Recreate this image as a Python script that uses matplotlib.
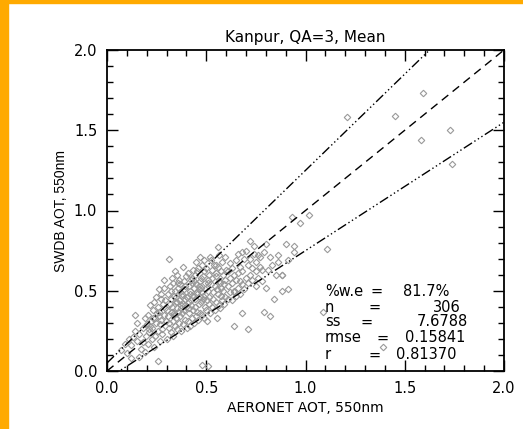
import numpy as np
import matplotlib
matplotlib.use("Agg")
import matplotlib.pyplot as plt
from matplotlib.patches import Rectangle

# AERONET (x) vs SWDB (y) AOT
aer_a = [0.07, 0.09, 0.10, 0.11, 0.12, 0.12, 0.13, 0.14, 0.15, 0.15, 0.16, 0.16, 0.17, 0.18, 0.18, 0.19, 0.19, 0.14]
swd_a = [0.13, 0.17, 0.11, 0.20, 0.08, 0.16, 0.21, 0.25, 0.30, 0.19, 0.09, 0.23, 0.14, 0.27, 0.18, 0.12, 0.33, 0.35]

aer_b = [0.198, 0.203, 0.207, 0.212, 0.205, 0.218, 0.214, 0.222, 0.226, 0.219,
         0.231, 0.235, 0.228, 0.241, 0.237, 0.244, 0.248, 0.252, 0.246, 0.257,
         0.255, 0.261, 0.258, 0.265, 0.268, 0.263, 0.272, 0.277, 0.274, 0.281,
         0.285, 0.279, 0.288, 0.292, 0.286, 0.296, 0.262, 0.291, 0.233, 0.271]
swd_b = [0.22, 0.29, 0.17, 0.26, 0.35, 0.41, 0.24, 0.31, 0.20, 0.28,
         0.38, 0.15, 0.27, 0.33, 0.43, 0.22, 0.30, 0.36, 0.46, 0.06,
         0.25, 0.34, 0.40, 0.19, 0.29, 0.37, 0.48, 0.26, 0.32, 0.42,
         0.52, 0.23, 0.35, 0.44, 0.57, 0.31, 0.51, 0.39, 0.33, 0.45]

aer_c = [0.300, 0.304, 0.309, 0.312, 0.306, 0.315, 0.318, 0.311, 0.322, 0.326,
         0.321, 0.328, 0.331, 0.335, 0.327, 0.338, 0.333, 0.342, 0.337, 0.346,
         0.341, 0.344, 0.352, 0.347, 0.355, 0.349, 0.358, 0.353, 0.361, 0.357,
         0.364, 0.368, 0.362, 0.371, 0.366, 0.374, 0.377, 0.369, 0.381, 0.376,
         0.384, 0.379, 0.387, 0.383, 0.391, 0.386, 0.394, 0.389, 0.397, 0.402,
         0.398, 0.405, 0.395, 0.313, 0.336, 0.351, 0.373, 0.392, 0.324, 0.359]
swd_c = [0.20, 0.38, 0.48, 0.27, 0.34, 0.42, 0.53, 0.70, 0.24, 0.37,
         0.45, 0.58, 0.22, 0.31, 0.40, 0.47, 0.55, 0.28, 0.35, 0.43,
         0.50, 0.62, 0.26, 0.33, 0.39, 0.46, 0.52, 0.60, 0.30, 0.37,
         0.44, 0.49, 0.57, 0.25, 0.34, 0.41, 0.47, 0.54, 0.29, 0.36,
         0.42, 0.48, 0.56, 0.65, 0.32, 0.38, 0.45, 0.51, 0.59, 0.27,
         0.40, 0.46, 0.53, 0.30, 0.36, 0.43, 0.39, 0.41, 0.50, 0.55]

aer_d = [0.406, 0.411, 0.403, 0.414, 0.409, 0.418, 0.413, 0.421, 0.416, 0.424,
         0.427, 0.422, 0.431, 0.426, 0.434, 0.438, 0.433, 0.441, 0.436, 0.444,
         0.447, 0.442, 0.451, 0.446, 0.454, 0.449, 0.457, 0.462, 0.455, 0.466,
         0.459, 0.468, 0.473, 0.465, 0.476, 0.471, 0.479, 0.483, 0.474, 0.486,
         0.481, 0.489, 0.493, 0.485, 0.496, 0.491, 0.498, 0.503, 0.495, 0.507,
         0.419, 0.439, 0.461, 0.478, 0.501, 0.429, 0.452, 0.469, 0.488, 0.412]
swd_d = [0.31, 0.39, 0.46, 0.53, 0.61, 0.28, 0.36, 0.44, 0.50, 0.57,
         0.33, 0.41, 0.47, 0.55, 0.63, 0.30, 0.38, 0.45, 0.52, 0.60,
         0.34, 0.40, 0.48, 0.54, 0.62, 0.68, 0.32, 0.42, 0.49, 0.56,
         0.64, 0.36, 0.43, 0.51, 0.58, 0.71, 0.35, 0.45, 0.52, 0.59,
         0.66, 0.33, 0.40, 0.47, 0.55, 0.62, 0.38, 0.44, 0.51, 0.57,
         0.48, 0.56, 0.53, 0.49, 0.64, 0.58, 0.37, 0.46, 0.69, 0.43]

aer_e = [0.505, 0.512, 0.508, 0.516, 0.519, 0.514, 0.523, 0.527, 0.521, 0.531,
         0.534, 0.528, 0.538, 0.542, 0.536, 0.545, 0.549, 0.553, 0.547, 0.556,
         0.551, 0.559, 0.563, 0.557, 0.566, 0.561, 0.569, 0.573, 0.567, 0.576,
         0.581, 0.574, 0.584, 0.579, 0.588, 0.583, 0.592, 0.596, 0.589, 0.602,
         0.511, 0.526, 0.548, 0.564, 0.593]
swd_e = [0.31, 0.42, 0.50, 0.60, 0.36, 0.46, 0.54, 0.63, 0.71, 0.40,
         0.49, 0.58, 0.66, 0.38, 0.45, 0.53, 0.61, 0.33, 0.43, 0.51,
         0.59, 0.77, 0.41, 0.48, 0.56, 0.65, 0.39, 0.47, 0.55, 0.62,
         0.44, 0.52, 0.60, 0.68, 0.42, 0.50, 0.57, 0.46, 0.54, 0.63,
         0.55, 0.69, 0.66, 0.72, 0.71]

aer_f = [0.61, 0.61, 0.61, 0.62, 0.62, 0.62, 0.63, 0.63, 0.63, 0.64,
         0.64, 0.64, 0.65, 0.65, 0.65, 0.66, 0.66, 0.66, 0.67, 0.67,
         0.67, 0.68, 0.68, 0.68, 0.69, 0.69, 0.70, 0.70, 0.64, 0.68]
swd_f = [0.45, 0.53, 0.62, 0.49, 0.58, 0.67, 0.44, 0.55, 0.64, 0.28,
         0.50, 0.60, 0.47, 0.57, 0.69, 0.52, 0.61, 0.73, 0.48, 0.56,
         0.65, 0.36, 0.54, 0.62, 0.51, 0.70, 0.58, 0.75, 0.49, 0.74]

aer_g = [0.71, 0.71, 0.71, 0.72, 0.72, 0.72, 0.73, 0.73, 0.74, 0.74,
         0.75, 0.75, 0.75, 0.76, 0.76, 0.77, 0.77, 0.78, 0.78, 0.79,
         0.79, 0.80]
swd_g = [0.26, 0.55, 0.66, 0.60, 0.70, 0.81, 0.57, 0.64, 0.73, 0.78,
         0.53, 0.62, 0.68, 0.58, 0.72, 0.65, 0.71, 0.56, 0.63, 0.37,
         0.74, 0.52]

aer_h = [0.80, 0.81, 0.82, 0.82, 0.83, 0.84, 0.85, 0.86, 0.86, 0.88,
         0.88, 0.88, 0.90, 0.91, 0.91, 0.93, 0.94, 0.94, 0.97]
swd_h = [0.79, 0.63, 0.34, 0.71, 0.66, 0.45, 0.60, 0.68, 0.72, 0.50,
         0.60, 0.60, 0.79, 0.51, 0.69, 0.96, 0.78, 0.74, 0.92]

aer_out = [0.48, 0.51, 1.02, 1.09, 1.11, 1.39, 1.21, 1.45, 1.59, 1.58, 1.73, 1.74]
swd_out = [0.04, 0.03, 0.97, 0.37, 0.76, 0.15, 1.58, 1.59, 1.73, 1.44, 1.50, 1.29]

stat_names = ["%w.e", "n", "ss", "rmse", "r"]
stat_values = ["81.7%", "306", "7.6788", "0.15841", "0.81370"]

aeronet = np.array(aer_a + aer_b + aer_c + aer_d + aer_e + aer_f + aer_g + aer_h + aer_out)
swdb = np.array(swd_a + swd_b + swd_c + swd_d + swd_e + swd_f + swd_g + swd_h + swd_out)

fig = plt.figure(figsize=(5.23, 4.29), dpi=100)
# slide border
fig.patches.append(Rectangle((0, 0), 8 / 523, 1, transform=fig.transFigure,
                             color="#FFAA00", zorder=0))
fig.patches.append(Rectangle((0, 1 - 3 / 429), 1, 3 / 429, transform=fig.transFigure,
                             color="#FFAA00", zorder=0))

ax = fig.add_axes([107 / 523, 1 - 371 / 429, 397 / 523, 321 / 429])

ax.plot(aeronet, swdb, linestyle="none", marker="D", ms=3.3, mfc="none",
        mec="#999999", mew=0.8)

xl = np.array([0.0, 2.0])
ax.plot(xl, xl, color="black", lw=1.0, dashes=(6, 4))
# expected error envelope +-(0.05 + 0.2*tau)
dd = (7, 2, 1, 2, 1, 2, 1, 2)
ax.plot(xl, 1.2 * xl + 0.05, color="black", lw=1.0, dashes=dd)
ax.plot(xl, 0.8 * xl - 0.05, color="black", lw=1.0, dashes=dd)

ax.set_xlim(0, 2)
ax.set_ylim(0, 2)
ax.set_xticks(np.arange(0, 2.01, 0.5))
ax.set_yticks(np.arange(0, 2.01, 0.5))
ax.set_xticks(np.arange(0, 2.01, 0.1), minor=True)
ax.set_yticks(np.arange(0, 2.01, 0.1), minor=True)
ax.set_xticklabels(["0.0", "0.5", "1.0", "1.5", "2.0"])
ax.set_yticklabels(["0.0", "0.5", "1.0", "1.5", "2.0"])
ax.tick_params(which="both", direction="in", top=True, right=True, width=1.0)
ax.tick_params(which="major", length=8, labelsize=10.5, pad=7)
ax.tick_params(which="minor", length=4)
for s in ax.spines.values():
    s.set_linewidth(1.3)

ax.set_title("Kanpur, QA=3, Mean", fontsize=11, pad=6)
ax.set_xlabel("AERONET AOT, 550nm", fontsize=10)
ax.set_ylabel("SWDB AOT, 550nm", fontsize=10, family="Liberation Sans", labelpad=4)

rows_y = [0.249, 0.199, 0.153, 0.103, 0.050]
eq_x = [0.678, 0.675, 0.655, 0.693, 0.673]
val_x = [0.746, 0.821, 0.781, 0.751, 0.728]
for i in range(len(stat_names)):
    ax.text(0.549, rows_y[i], stat_names[i], transform=ax.transAxes,
            fontsize=10.5, va="center", ha="left")
    ax.text(eq_x[i], rows_y[i], "=", transform=ax.transAxes,
            fontsize=10.5, va="center", ha="center")
    ax.text(val_x[i], rows_y[i], stat_values[i], transform=ax.transAxes,
            fontsize=10.5, va="center", ha="left")

fig.savefig("out.png", dpi=100)
